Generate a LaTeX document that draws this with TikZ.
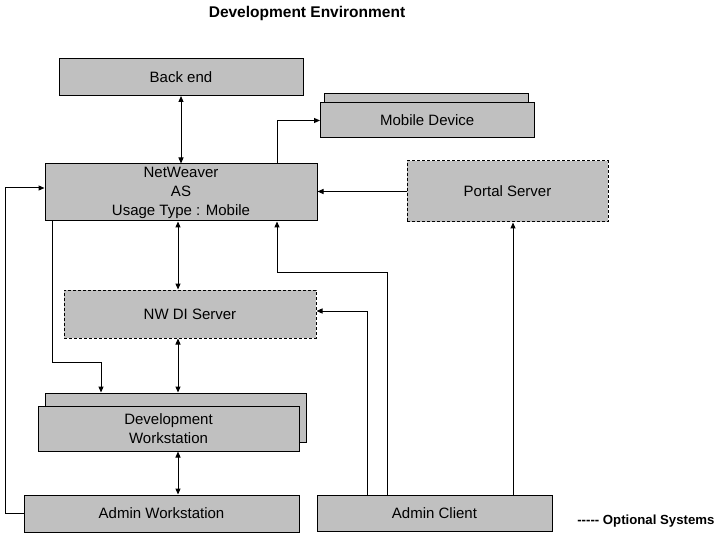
\documentclass[tikz,border=0pt]{standalone}
\usepackage{fontspec}
\setmainfont{Liberation Sans}
\usetikzlibrary{arrows.meta}
\definecolor{boxgray}{HTML}{C0C0C0}
\begin{document}
\begin{tikzpicture}[x=1pt,y=-1pt,
  box/.style={draw=black, line width=1pt, fill=boxgray, inner sep=0pt, align=center,
    font=\fontsize{15}{19}\selectfont},
  optbox/.style={box, dashed, dash pattern=on 3pt off 2pt},
  arr/.style={line width=1pt, -{Triangle[length=6pt,width=5pt]}},
  darr/.style={line width=1pt, {Triangle[length=6pt,width=5pt]}-{Triangle[length=6pt,width=5pt]}}]
\useasboundingbox (0,0) rectangle (720,540);
\node[font=\bfseries\fontsize{15.5}{17}\selectfont] (title) at (307,13) {Development Environment};
\node[box, minimum width=244, minimum height=37] (be) at (181,77) {Back end};
\node[box, minimum width=204, minimum height=36] (mobb) at (426,112) {};
\node[box, minimum width=213.5, minimum height=35] (mobf) at (427.25,120.5) {Mobile Device};
\node[box, minimum width=272, minimum height=57] (nw) at (181,192.5) {NetWeaver\\AS\\Usage Type : Mobile};
\node[optbox, minimum width=201, minimum height=61] (portal) at (507.5,191.5) {Portal Server};
\node[optbox, minimum width=252, minimum height=48] (nwdi) at (190,314) {NW DI Server};
\node[box, minimum width=261, minimum height=49] (devb) at (175.5,417.5) {};
\node[box, minimum width=261, minimum height=45] (devf) at (168.5,428.5) {Development\\Workstation};
\node[box, minimum width=275, minimum height=37] (aws) at (161.5,513.5) {Admin Workstation};
\node[box, minimum width=235, minimum height=36] (ac) at (434.5,513) {Admin Client};
\node[font=\bfseries\fontsize{13.2}{14}\selectfont, anchor=east] (legend) at (718,521) {{-}{-}{-}{-}{-} Optional Systems};
% connectors
\draw[darr] (be.south) -- (nw.north);
\coordinate (c8) at (277,120.5);
\draw[arr] (c8 |- nw.north) -- (c8) -- (mobf.west);
\draw[arr] (portal.west) -- (portal.west -| nw.east);
\coordinate (c1) at (5,188);
\draw[arr] (aws.west) -| (c1) -- (c1 -| nw.west);
\coordinate (c2) at (52,362);
\coordinate (c3) at (101,362);
\draw[arr] (c2 |- nw.south) -- (c2) -- (c3) -- (c3 |- devb.north);
\coordinate (x178) at (178,0);
\draw[darr] (x178 |- nw.south) -- (x178 |- nwdi.north);
\draw[darr] (x178 |- nwdi.south) -- (x178 |- devb.north);
\draw[darr] (x178 |- devf.south) -- (x178 |- aws.north);
\coordinate (c4) at (387,272);
\coordinate (c5) at (277,272);
\draw[arr] (c4 |- ac.north) -- (c4) -- (c5) -- (c5 |- nw.south);
\coordinate (c6) at (367,311);
\draw[arr] (c6 |- ac.north) -- (c6) -- (c6 -| nwdi.east);
\coordinate (c7) at (513,0);
\draw[arr] (c7 |- ac.north) -- (c7 |- portal.south);
\end{tikzpicture}
\end{document}
